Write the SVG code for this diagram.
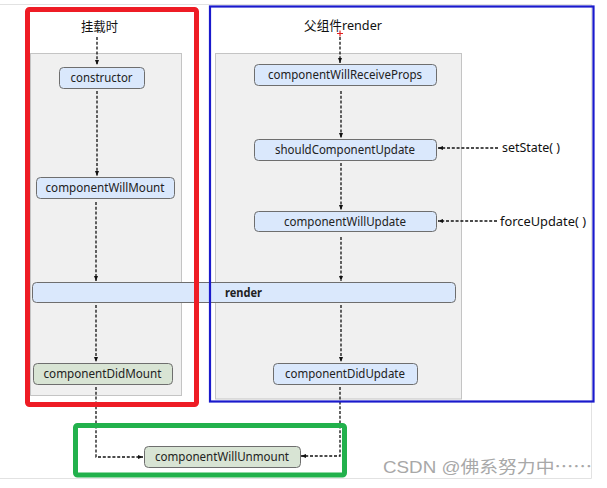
<svg xmlns="http://www.w3.org/2000/svg" width="607" height="488" viewBox="0 0 607 488">
<style>
.panel{fill:#f0f0f0;stroke:#c4c4c4;stroke-width:1}
.nb{fill:#dae8fc;stroke:#6e6e6e;stroke-width:1}
.ng{fill:#d8e4d4;stroke:#6e6e6e;stroke-width:1}
.t{font-family:"Noto Sans","Open Sans","Liberation Sans",sans-serif;font-size:12px;fill:#222;text-anchor:middle}
.tb{font-weight:bold}
.lbl{font-family:"Noto Sans","Noto Sans CJK SC","Liberation Sans",sans-serif;font-size:13px;fill:#111}
.c{fill:none;stroke:#111;stroke-width:1.3;stroke-dasharray:3 1.8}
.wm{font-family:"Liberation Sans","Noto Sans CJK SC",sans-serif;font-size:17px;fill:#a8a8a8}
</style>
<defs>
<marker id="ah" markerUnits="userSpaceOnUse" markerWidth="6" markerHeight="6" refX="5" refY="3" orient="auto">
<path d="M0,1 L5,3 L0,5 Z" fill="#111"/>
</marker>
</defs>
<rect width="607" height="488" fill="#ffffff"/>
<g id="frame" fill="none" stroke="#e2e2e2" stroke-width="1">
<path d="M0,4.5 H591.5 V478.5 H0"/>
</g>
<rect class="panel" x="30.5" y="53.5" width="151" height="342"/>
<rect class="panel" x="215.5" y="53.5" width="246" height="345.5"/>
<g id="connectors">
<path class="c" d="M97,37 V65" marker-end="url(#ah)"/>
<path class="c" d="M97,91 V176" marker-end="url(#ah)"/>
<path class="c" d="M96,202 V281" marker-end="url(#ah)"/>
<path class="c" d="M96,305 V362" marker-end="url(#ah)"/>
<path class="c" d="M96,387 V457 H143" marker-end="url(#ah)"/>
<path class="c" d="M340,37 V63" marker-end="url(#ah)"/>
<path class="c" d="M341,91 V138" marker-end="url(#ah)"/>
<path class="c" d="M341,163 V210" marker-end="url(#ah)"/>
<path class="c" d="M341,237 V281" marker-end="url(#ah)"/>
<path class="c" d="M341,305 V362" marker-end="url(#ah)"/>
<path class="c" d="M340,387 V456 H301" marker-end="url(#ah)"/>
<path class="c" d="M498,148 H438" marker-end="url(#ah)"/>
<path class="c" d="M497,221 H438" marker-end="url(#ah)"/>
</g>
<g id="cursor" stroke="#e02020" stroke-width="1.2">
<path d="M337,33.5 H343 M340,30.5 V36.5"/>
</g>
<g id="mount-label"><text class="lbl" x="99.5" y="31" text-anchor="middle" textLength="37" lengthAdjust="spacingAndGlyphs">挂载时</text></g>
<g id="parent-render"><text class="lbl" x="343" y="30" text-anchor="middle" textLength="78" lengthAdjust="spacingAndGlyphs">父组件render</text></g>
<g id="setState"><text class="lbl" x="502" y="152" textLength="58" lengthAdjust="spacingAndGlyphs">setState( )</text></g>
<g id="forceUpdate"><text class="lbl" x="500" y="226" textLength="86" lengthAdjust="spacingAndGlyphs">forceUpdate( )</text></g>
<g id="constructor"><rect class="nb" x="59.5" y="67.5" width="85" height="21" rx="4"/><text class="t" x="101.5" y="81.5" textLength="62" lengthAdjust="spacingAndGlyphs">constructor</text></g>
<g id="componentWillMount"><rect class="nb" x="36.5" y="177.5" width="138" height="21" rx="4"/><text class="t" x="105" y="191.5" textLength="119" lengthAdjust="spacingAndGlyphs">componentWillMount</text></g>
<g id="render"><rect class="nb" x="32.5" y="282.5" width="423" height="20" rx="4"/><text class="t tb" x="243.5" y="296.5" textLength="37" lengthAdjust="spacingAndGlyphs">render</text></g>
<g id="componentDidMount"><rect class="ng" x="33.5" y="363.5" width="139" height="21" rx="4"/><text class="t" x="102.5" y="377.5" textLength="118" lengthAdjust="spacingAndGlyphs">componentDidMount</text></g>
<g id="componentWillReceiveProps"><rect class="nb" x="254.5" y="64.5" width="182" height="21" rx="4"/><text class="t" x="345" y="78.5" textLength="154" lengthAdjust="spacingAndGlyphs">componentWillReceiveProps</text></g>
<g id="shouldComponentUpdate"><rect class="nb" x="254.5" y="139.5" width="182" height="21" rx="4"/><text class="t" x="345" y="153.5" textLength="140" lengthAdjust="spacingAndGlyphs">shouldComponentUpdate</text></g>
<g id="componentWillUpdate"><rect class="nb" x="254.5" y="211.5" width="182" height="20" rx="4"/><text class="t" x="345" y="225.5" textLength="122" lengthAdjust="spacingAndGlyphs">componentWillUpdate</text></g>
<g id="componentDidUpdate"><rect class="nb" x="273.5" y="363.5" width="144" height="21" rx="4"/><text class="t" x="345" y="377.5" textLength="120" lengthAdjust="spacingAndGlyphs">componentDidUpdate</text></g>
<g id="componentWillUnmount"><rect class="ng" x="144.5" y="446.5" width="156" height="21" rx="4"/><text class="t" x="222" y="460.5" textLength="134" lengthAdjust="spacingAndGlyphs">componentWillUnmount</text></g>
<g id="mount-frame"><rect x="27.5" y="9.5" width="169" height="395" rx="2" fill="none" stroke="#ee1c25" stroke-width="5"/></g>
<g id="update-frame"><rect x="210" y="6.5" width="383.5" height="395" fill="none" stroke="#1a1acc" stroke-width="2.2"/></g>
<g id="unmount-frame"><rect x="75.5" y="425.5" width="269" height="49.5" rx="2" fill="none" stroke="#22b14c" stroke-width="5"/></g>
<g id="watermark"><text class="wm" x="383" y="473" textLength="209" lengthAdjust="spacingAndGlyphs">CSDN @佛系努力中<tspan font-family="'Noto Sans CJK SC',sans-serif" xml:lang="zh-CN">……</tspan></text></g>
</svg>
